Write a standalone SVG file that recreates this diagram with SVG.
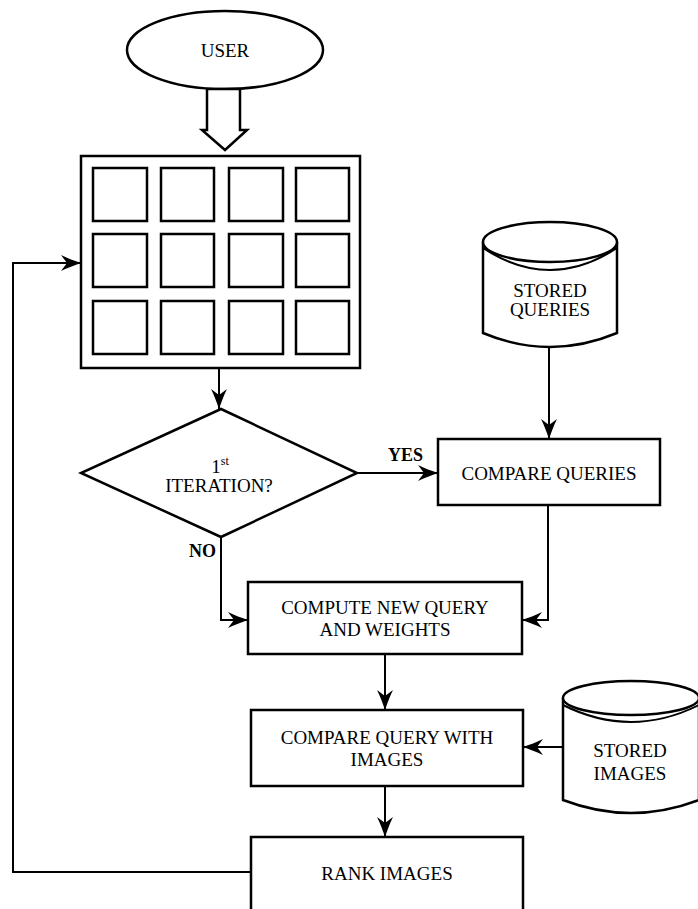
<svg xmlns="http://www.w3.org/2000/svg" width="698" height="909" viewBox="0 0 698 909">
  <defs>
    <style>
      .shape { fill: #ffffff; stroke: #000000; stroke-width: 2.5; }
      .cell { fill: #ffffff; stroke: #000000; stroke-width: 2.5; }
      .conn { fill: none; stroke: #000000; stroke-width: 2; }
      .lbl { font-family: "Liberation Serif", "Times New Roman", serif; font-size: 19px; fill: #000000; text-anchor: middle; }
      .bold { font-family: "Liberation Serif", "Times New Roman", serif; font-size: 18px; font-weight: bold; fill: #000000; }
    </style>
    <marker id="arr" markerUnits="userSpaceOnUse" markerWidth="22" markerHeight="18" refX="20" refY="8" orient="auto">
      <path d="M0,0 C6,3 14,6 20,8 C14,10 6,13 0,16 L6,8 z" fill="#000000"/>
    </marker>
  </defs>
  <rect width="698" height="909" fill="#ffffff"/>

  <g id="user">
    <ellipse class="shape" cx="225" cy="50" rx="98" ry="39"/>
    <text class="lbl" x="225" y="57">USER</text>
  </g>

  <g id="image-grid">
    <rect class="shape" x="81" y="156" width="279" height="212"/>
    <rect class="cell" x="93" y="168" width="54" height="53"/>
    <rect class="cell" x="161" y="168" width="53" height="53"/>
    <rect class="cell" x="229" y="168" width="54" height="53"/>
    <rect class="cell" x="296" y="168" width="53" height="53"/>
    <rect class="cell" x="93" y="234" width="54" height="53"/>
    <rect class="cell" x="161" y="234" width="53" height="53"/>
    <rect class="cell" x="229" y="234" width="54" height="53"/>
    <rect class="cell" x="296" y="234" width="53" height="53"/>
    <rect class="cell" x="93" y="301" width="54" height="53"/>
    <rect class="cell" x="161" y="301" width="53" height="53"/>
    <rect class="cell" x="229" y="301" width="54" height="53"/>
    <rect class="cell" x="296" y="301" width="53" height="53"/>
  </g>

  <g id="first-iteration">
    <polygon class="shape" points="221,409 357,473 221,537 81,473"/>
    <text class="lbl" x="220" y="473">1<tspan font-size="12" dy="-8">st</tspan></text>
    <text class="lbl" x="219" y="492">ITERATION?</text>
  </g>

  <g id="stored-queries">
    <path class="shape" d="M483,242 L483,333 Q550,361 617,333 L617,242"/>
    <ellipse class="shape" cx="550" cy="242" rx="67" ry="20"/>
    <path class="conn" d="M483,248 Q550,292 617,248" stroke-width="2.5"/>
    <text class="lbl" x="550" y="297">STORED</text>
    <text class="lbl" x="550" y="316">QUERIES</text>
  </g>

  <g id="compare-queries">
    <rect class="shape" x="438" y="439" width="222" height="66"/>
    <text class="lbl" x="549" y="480">COMPARE QUERIES</text>
  </g>

  <g id="compute-new-query">
    <rect class="shape" x="248" y="582" width="274" height="72"/>
    <text class="lbl" x="385" y="614">COMPUTE NEW QUERY</text>
    <text class="lbl" x="385" y="636">AND WEIGHTS</text>
  </g>

  <g id="compare-query-images">
    <rect class="shape" x="251" y="710" width="272" height="76"/>
    <text class="lbl" x="387" y="744">COMPARE QUERY WITH</text>
    <text class="lbl" x="387" y="766">IMAGES</text>
  </g>

  <g id="stored-images">
    <path class="shape" d="M563,698 L563,800 Q631,826 699,800 L699,698"/>
    <ellipse class="shape" cx="631" cy="698" rx="68" ry="17"/>
    <path class="conn" d="M563,705 Q631,739 699,705" stroke-width="2.5"/>
    <text class="lbl" x="630" y="757">STORED</text>
    <text class="lbl" x="630" y="780">IMAGES</text>
  </g>

  <g id="rank-images">
    <rect class="shape" x="251" y="837" width="272" height="90"/>
    <text class="lbl" x="387" y="880">RANK IMAGES</text>
  </g>

  <g id="connectors">
    <polygon class="shape" points="207,89 240,89 240,130 247,130 225,150 202,130 207,130"/>
    <line class="conn" x1="219" y1="368" x2="219" y2="409" marker-end="url(#arr)"/>
    <line class="conn" x1="357" y1="473" x2="438" y2="473" marker-end="url(#arr)"/>
    <text class="bold" x="388" y="461">YES</text>
    <line class="conn" x1="549" y1="347" x2="549" y2="439" marker-end="url(#arr)"/>
    <polyline class="conn" points="221,537 221,620 248,620" marker-end="url(#arr)"/>
    <text class="bold" x="189" y="557">NO</text>
    <polyline class="conn" points="548,505 548,620 522,620" marker-end="url(#arr)"/>
    <line class="conn" x1="385" y1="654" x2="385" y2="710" marker-end="url(#arr)"/>
    <line class="conn" x1="563" y1="747" x2="523" y2="747" marker-end="url(#arr)"/>
    <line class="conn" x1="385" y1="786" x2="385" y2="837" marker-end="url(#arr)"/>
    <polyline class="conn" points="251,872 13,872 13,263 81,263" marker-end="url(#arr)"/>
  </g>
</svg>
